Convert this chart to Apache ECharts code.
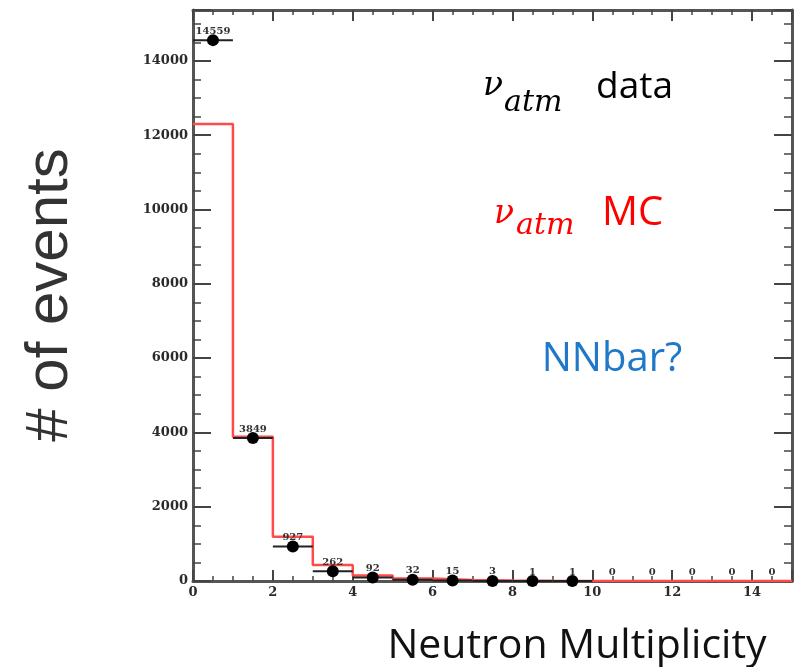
<!DOCTYPE html>
<html>
<head>
<meta charset="utf-8">
<script src="https://cdn.jsdelivr.net/npm/echarts@6/dist/echarts.min.js"></script>
<style>
  html, body { margin: 0; background: #fff; }
  #chart { width: 794px; height: 667px; }
</style>
</head>
<body>
<div id="chart"></div>
<script>
// bins of neutron multiplicity (0..15, width 1)
const binEdges = [0, 1, 2, 3, 4, 5, 6, 7, 8, 9, 10, 11, 12, 13, 14, 15];
const binCenters = [0.5, 1.5, 2.5, 3.5, 4.5, 5.5, 6.5, 7.5, 8.5, 9.5, 10.5, 11.5, 12.5, 13.5, 14.5];
// atmospheric neutrino data (points) and its errors
const dataCounts = [14559, 3849, 927, 262, 92, 32, 15, 3, 1, 1, 0, 0, 0, 0, 0];
const dataErrors = [121, 62, 30, 16, 10, 6, 4, 2, 1, 1, 0, 0, 0, 0, 0];
// MC histogram
const mcCounts = [12300, 3880, 1190, 430, 150, 70, 30, 12, 5, 2, 1, 0, 0, 0, 0];

const chart = echarts.init(document.getElementById("chart"));

const mcStep = binEdges.map((e, i) => [e, mcCounts[Math.min(i, mcCounts.length - 1)]]);
const points = binCenters.map((c, i) => [c, dataCounts[i], dataErrors[i]]);

const tickFont = {
  fontFamily: "DejaVu Serif",
  fontWeight: "bold",
  fontSize: 13,
  color: "#2a2a2a",
  formatter: (v) => String(v),
};
const frameLine = { show: true, onZero: false, lineStyle: { color: "#555", width: 3 } };
const tick = (len) => ({ inside: true, length: len, lineStyle: { color: "#444", width: 2 } });
const minor = (len) => ({ show: true, splitNumber: 4, length: len, lineStyle: { color: "#444", width: 1.5 } });

const option = {
  animation: false,
  grid: { left: 193, right: 2, top: 10, bottom: 86 },
  xAxis: [
    {
      type: "value",
      min: 0,
      max: 15,
      interval: 2,
      axisLine: frameLine,
      axisTick: tick(11),
      minorTick: minor(5),
      splitLine: { show: false },
      axisLabel: { ...tickFont, margin: 5, showMaxLabel: false },
    },
    {
      type: "value",
      position: "top",
      min: 0,
      max: 15,
      interval: 2,
      axisLine: frameLine,
      axisTick: tick(11),
      minorTick: minor(5),
      splitLine: { show: false },
      axisLabel: { show: false },
    },
  ],
  yAxis: [
    {
      type: "value",
      min: 0,
      max: 15370,
      interval: 2000,
      axisLine: frameLine,
      axisTick: tick(18),
      minorTick: minor(8),
      splitLine: { show: false },
      axisLabel: { ...tickFont, margin: 5, showMaxLabel: false },
    },
    {
      type: "value",
      position: "right",
      min: 0,
      max: 15370,
      interval: 2000,
      axisLine: frameLine,
      axisTick: tick(18),
      minorTick: minor(8),
      splitLine: { show: false },
      axisLabel: { show: false },
    },
  ],
  series: [
    {
      name: "MC",
      type: "line",
      step: "end",
      data: mcStep,
      symbol: "none",
      lineStyle: { color: "#ff4a4a", width: 2.5 },
      z: 3,
    },
    {
      name: "errors",
      type: "custom",
      data: points,
      z: 4,
      renderItem: function (params, api) {
        const x = api.value(0);
        const y = api.value(1);
        const e = api.value(2);
        if (y <= 0) return;
        const l = api.coord([x - 0.5, y]);
        const r = api.coord([x + 0.5, y]);
        const t = api.coord([x, y + e]);
        const b = api.coord([x, y - e]);
        const style = { stroke: "#222", lineWidth: 2 };
        return {
          type: "group",
          children: [
            { type: "line", shape: { x1: l[0], y1: l[1], x2: r[0], y2: r[1] }, style },
            { type: "line", shape: { x1: t[0], y1: t[1], x2: b[0], y2: b[1] }, style },
          ],
        };
      },
    },
    {
      name: "data",
      type: "scatter",
      data: points,
      z: 5,
      symbolSize: (v) => (v[1] > 0 ? 12 : 0),
      itemStyle: { color: "#000", opacity: 1 },
      label: {
        show: true,
        position: "inside",
        offset: [0, -9],
        formatter: (p) => p.value[1],
        fontFamily: "DejaVu Serif",
        fontWeight: "bold",
        fontSize: 10,
        color: "#333",
      },
    },
  ],
  graphic: [
    // y axis title
    {
      type: "text",
      x: 50,
      y: 295,
      rotation: Math.PI / 2,
      style: {
        text: "# of events",
        font: "60px 'Liberation Sans'",
        fill: "#333",
        align: "center",
        verticalAlign: "middle",
      },
    },
    // x axis title
    {
      type: "text",
      x: 577,
      y: 646,
      style: {
        text: "Neutron Multiplicity",
        font: "41px 'Open Sans'",
        fill: "#111",
        align: "center",
        verticalAlign: "middle",
      },
    },
    // nu_atm data
    { type: "text", x: 483, y: 103, style: { text: "ν", font: "italic 33px 'DejaVu Serif'", fill: "#000", verticalAlign: "bottom" } },
    { type: "text", x: 504, y: 118, style: { text: "atm", font: "italic 30px 'DejaVu Serif'", fill: "#000", verticalAlign: "bottom" } },
    { type: "text", x: 596, y: 106, style: { text: "data", font: "37px 'Open Sans'", fill: "#000", verticalAlign: "bottom" } },
    // nu_atm MC
    { type: "text", x: 494, y: 231, style: { text: "ν", font: "italic 33px 'DejaVu Serif'", fill: "#f00", verticalAlign: "bottom" } },
    { type: "text", x: 516, y: 241, style: { text: "atm", font: "italic 30px 'DejaVu Serif'", fill: "#f00", verticalAlign: "bottom" } },
    { type: "text", x: 602, y: 234, style: { text: "MC", font: "40px 'Open Sans'", fill: "#f00", verticalAlign: "bottom" } },
    // NNbar?
    { type: "text", x: 612, y: 360, style: { text: "NNbar?", font: "40px 'Open Sans'", fill: "#1f78c8", align: "center", verticalAlign: "middle" } },
  ],
};

chart.setOption(option);
</script>
</body>
</html>
